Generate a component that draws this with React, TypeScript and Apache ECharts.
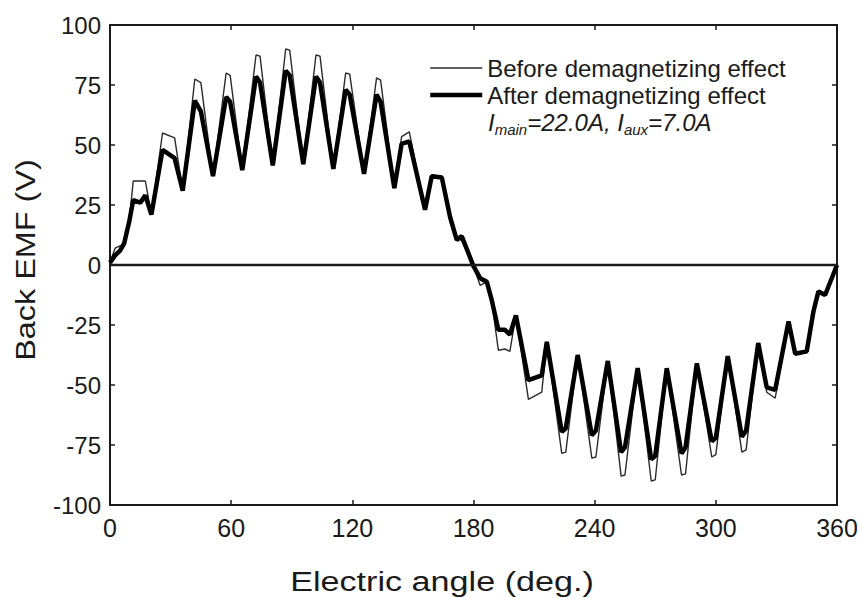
import React, { useEffect, useRef } from "react";
import * as echarts from "echarts";

const angles = [
  0, 2.5, 5, 7, 9.5, 11.5, 15, 17.5, 20.5, 26, 32, 36, 42, 45, 51, 57.5, 59.5, 65.5,
  72.3, 74.3, 80.6, 87, 89, 95.7, 102, 104, 110.6, 116.7, 118.7, 125.8, 132, 134,
  140.8, 144.4, 148.2, 156, 159.3, 164.3, 168.4, 171.7, 174.2, 180,
  183.3, 186.6, 189, 192.3, 195.6, 198, 201, 207.2, 213.8, 216.3, 223.7, 225.7,
  231.6, 238.6, 240.6, 246.5, 253.1, 255, 261.3, 268, 270, 275.7, 283, 285, 290.6,
  298, 300, 305.9, 312.9, 315, 321, 325.2, 329.4, 336, 339.3, 345, 348.3, 350.8,
  354.1, 360,
];

const afterEMF = [
  1, 4, 6, 9, 18, 27, 26, 29, 21, 48, 44.5, 31, 68.5, 64, 37, 70, 68, 39.5,
  78.5, 76, 41.5, 81, 79, 42, 78.5, 76, 40, 73, 71, 38, 71, 68,
  32, 50.5, 51.5, 23, 37, 36.5, 20, 10.5, 12, -0.5,
  -5.5, -7, -14.5, -27, -27, -29, -21, -48, -46, -32, -69.5, -68,
  -37.5, -71, -69, -40, -78, -76, -43, -81, -79.5, -43, -78.5, -76, -41,
  -73.5, -72, -38, -71.5, -69, -32.5, -51, -52, -23.5, -37, -36, -19.5, -11,
  -12.5, 0,
];

const beforeEMF = [
  1, 7, 8, 8, 18, 35, 35, 35, 21, 55, 53, 31, 77.5, 76, 37, 80, 79, 39.5,
  87.5, 87, 41.5, 90, 89.5, 42, 87.5, 87, 40, 80, 79.5, 38, 78, 77,
  32, 53.5, 55.5, 23, 37.5, 37, 20, 12, 10, -0.5,
  -8.5, -7, -15, -35.5, -35, -36, -21, -56, -53, -32, -78.5, -78,
  -37.5, -80.5, -80, -40, -88, -87.5, -43, -90, -89.5, -43, -87.5, -87, -41,
  -80, -79, -38, -78, -77, -32.5, -53, -55.5, -23.5, -37, -36.5, -19.5, -11,
  -12.5, 0,
];

const xTicks = [0, 60, 120, 180, 240, 300, 360];
const seriesNames = ["Before demagnetizing effect", "After demagnetizing effect"];
const xTitle = "Electric angle (deg.)";
const yTitle = "Back EMF (V)";

export default function App() {
  const ref = useRef<HTMLDivElement>(null);
  useEffect(() => {
    if (!ref.current) return;
    const chart = echarts.init(ref.current, null, { renderer: "svg" });
    const font = "Liberation Sans, Arial, Helvetica, sans-serif";
    const ink = "#1a1a1a";
    const axisCommon = {
      axisLine: { show: true, onZero: false, lineStyle: { color: ink, width: 2 } },
      axisTick: { show: true, inside: true, length: 5, lineStyle: { color: ink, width: 1.5 } },
      splitLine: { show: false },
    };
    chart.setOption({
      animation: false,
      backgroundColor: "#ffffff",
      grid: { left: 110, top: 25, width: 727, height: 480, containLabel: false },
      xAxis: [
        {
          type: "value",
          min: xTicks[0],
          max: xTicks[xTicks.length - 1],
          interval: 60,
          position: "bottom",
          ...axisCommon,
          axisLabel: { color: ink, fontSize: 25, fontFamily: font, margin: 10 },
        },
        {
          type: "value",
          min: 0,
          max: 360,
          interval: 60,
          position: "top",
          ...axisCommon,
          axisLabel: { show: false },
        },
      ],
      yAxis: [
        {
          type: "value",
          min: -100,
          max: 100,
          interval: 25,
          position: "left",
          ...axisCommon,
          axisLabel: { color: ink, fontSize: 24, fontFamily: font, margin: 9 },
        },
        {
          type: "value",
          min: -100,
          max: 100,
          interval: 25,
          position: "right",
          ...axisCommon,
          axisLabel: { show: false },
        },
      ],
      legend: {
        orient: "vertical",
        left: 423,
        top: 51,
        itemWidth: 52,
        itemHeight: 14,
        itemGap: 3,
        itemStyle: { opacity: 0 },
        data: [
          { name: seriesNames[0], lineStyle: { width: 1.4, color: "#2a2a2a" } },
          { name: seriesNames[1], lineStyle: { width: 4.5, color: "#000" } },
        ],
        textStyle: { color: ink, fontSize: 24, fontFamily: font, padding: [0, 0, 0, 0] },
      },
      graphic: [
        {
          type: "text",
          x: 488,
          y: 122,
          style: {
            text: "{i|I}{s|main}{i|=22.0A, I}{s|aux}{i|=7.0A}",
            fill: ink,
            verticalAlign: "middle",
            rich: {
              i: { fontSize: 24, fontStyle: "italic", fontFamily: font, fill: ink },
              s: { fontSize: 15, fontStyle: "italic", fontFamily: font, fill: ink, padding: [14, 0, 0, 0] },
            },
          },
        },
        {
          type: "text",
          x: 442,
          y: 582,
          scaleX: 1.22,
          style: {
            text: xTitle,
            fill: ink,
            fontSize: 28,
            fontFamily: font,
            align: "center",
            verticalAlign: "middle",
          },
        },
        {
          type: "text",
          x: 25,
          y: 260,
          rotation: Math.PI / 2,
          scaleX: 1.2,
          style: {
            text: yTitle,
            fill: ink,
            fontSize: 27,
            fontFamily: font,
            align: "center",
            verticalAlign: "middle",
          },
        },
      ],
      series: [
        {
          name: seriesNames[0],
          type: "line",
          data: angles.map((a, i) => [a, beforeEMF[i]]),
          showSymbol: false,
          symbol: "none",
          lineStyle: { color: "#2a2a2a", width: 1.4 },
          itemStyle: { color: "#2a2a2a" },
          z: 2,
          markLine: {
            silent: true,
            symbol: "none",
            label: { show: false },
            lineStyle: { color: ink, width: 2.4, type: "solid" },
            data: [{ yAxis: 0 }],
          },
        },
        {
          name: seriesNames[1],
          type: "line",
          data: angles.map((a, i) => [a, afterEMF[i]]),
          showSymbol: false,
          symbol: "none",
          lineStyle: { color: "#000", width: 4.5 },
          itemStyle: { color: "#000" },
          z: 3,
        },
      ],
    });
    return () => chart.dispose();
  }, []);
  return (
    <div
      ref={ref}
      style={{ position: "fixed", left: 0, top: 0, width: 862, height: 598, background: "#fff" }}
    />
  );
}
